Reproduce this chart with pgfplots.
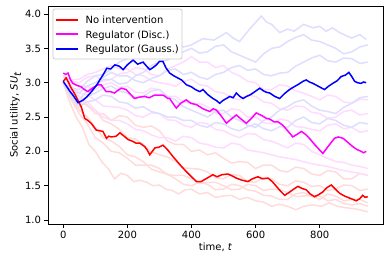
\documentclass[border=0pt]{standalone}
\usepackage{pgfplots}
\pgfplotsset{compat=1.18}
\usepackage{fontspec}
\setmainfont{DejaVu Sans}
\definecolor{mred}{RGB}{255,0,0}
\definecolor{mmag}{RGB}{255,0,255}
\definecolor{mblue}{RGB}{0,0,255}
\definecolor{fred}{RGB}{255,220,220}
\definecolor{fmag}{RGB}{255,220,255}
\definecolor{fblue}{RGB}{222,222,255}
\definecolor{lgedge}{RGB}{204,204,204}
\begin{document}
\fontsize{10pt}{12pt}\selectfont
\begin{tikzpicture}
\useasboundingbox (-48pt,-41pt) rectangle (342pt,224pt);
\begin{axis}[
  at={(0,0)}, anchor=south west,
  scale only axis, width=335pt, height=218pt,
  xmin=-47.5, xmax=997.5, ymin=0.942, ymax=4.117,
  xtick={0,200,400,600,800},
  ytick={1.0,1.5,2.0,2.5,3.0,3.5,4.0},
  yticklabel style={/pgf/number format/.cd, fixed, fixed zerofill, precision=1},
  /pgf/number format/assume math mode=true,
  tick align=outside, major tick length=3.5pt,
  xtick pos=bottom, ytick pos=left,
  tick style={black, line width=0.8pt},
  axis line style={black, line width=0.8pt},
  ticklabel style={font=\fontsize{10pt}{12pt}\selectfont},
  xlabel={time, \textit{t}},
  ylabel={Social utility, \textit{SU}$_{\textit{t}}$},
  label style={font=\fontsize{10pt}{12pt}\selectfont},
  xlabel style={yshift=3pt},
  ylabel style={yshift=-3pt},
]
% faint red
\addplot[fred, line width=1.5pt, forget plot] coordinates {(0,3.0) (25,2.82) (50,2.7) (75,2.68) (100,2.55) (125,2.55) (150,2.45) (175,2.52) (200,2.5) (225,2.38) (250,2.35) (275,2.37) (300,2.3) (325,2.15) (350,2.1) (375,2.1) (400,2.0) (425,2.02) (450,1.95) (475,1.98) (500,1.9) (525,1.83) (550,1.85) (575,1.84) (600,1.75) (625,1.8) (650,1.8) (675,1.72) (700,1.7) (725,1.77) (750,1.75) (775,1.67) (800,1.65) (825,1.72) (850,1.7) (875,1.6) (900,1.6) (925,1.68) (950,1.65)};
\addplot[fred, line width=1.5pt, forget plot] coordinates {(0,3.0) (20,2.72) (40,2.5) (60,2.35) (80,2.1) (100,2.0) (120,1.85) (140,1.75) (160,1.6) (180,1.68) (200,1.65) (220,1.56) (240,1.58) (260,1.55) (280,1.5) (300,1.51) (320,1.45) (340,1.43) (360,1.38) (380,1.44) (400,1.45) (425,1.38) (450,1.4) (475,1.33) (500,1.35) (525,1.36) (550,1.3) (575,1.33) (600,1.28) (625,1.26) (650,1.2) (675,1.23) (700,1.2) (726,1.15) (750,1.2) (780,1.22) (805,1.2) (830,1.25) (855,1.2) (880,1.18) (915,1.16) (950,1.12)};
\addplot[fred, line width=1.5pt, forget plot] coordinates {(0,3.0) (25,2.75) (50,2.55) (75,2.4) (100,2.2) (125,2.12) (150,2.0) (175,1.98) (200,1.9) (225,1.8) (250,1.8) (275,1.8) (300,1.75) (325,1.66) (350,1.65) (375,1.65) (400,1.6) (425,1.53) (450,1.55) (475,1.55) (500,1.5) (525,1.44) (550,1.45) (575,1.52) (600,1.5) (625,1.43) (650,1.45) (675,1.44) (700,1.4) (725,1.34) (750,1.35) (775,1.35) (800,1.3) (825,1.38) (850,1.35) (875,1.28) (900,1.3) (925,1.3) (950,1.25)};
\addplot[fred, line width=1.5pt, forget plot] coordinates {(0,3.0) (25,2.92) (50,2.8) (75,2.66) (100,2.6) (125,2.45) (150,2.4) (175,2.32) (200,2.2) (225,2.18) (250,2.1) (275,1.99) (300,1.95) (325,1.92) (350,1.85) (375,1.76) (400,1.75) (425,1.74) (450,1.7) (475,1.62) (500,1.6) (525,1.66) (550,1.65) (575,1.56) (600,1.55) (625,1.62) (650,1.6) (675,1.52) (700,1.5) (725,1.57) (750,1.55) (775,1.49) (800,1.5) (825,1.43) (850,1.45) (875,1.51) (900,1.5) (925,1.43) (950,1.45)};
\addplot[fred, line width=1.5pt, forget plot] coordinates {(0,3.0) (25,2.78) (50,2.6) (75,2.5) (100,2.35) (125,2.2) (150,2.15) (175,2.07) (200,1.95) (225,1.92) (250,1.85) (275,1.74) (300,1.7) (325,1.67) (350,1.6) (375,1.52) (400,1.5) (425,1.55) (450,1.52) (475,1.44) (500,1.45) (525,1.52) (550,1.5) (575,1.44) (600,1.42) (625,1.36) (650,1.35) (675,1.3) (700,1.3) (725,1.38) (750,1.4) (775,1.34) (800,1.35) (825,1.28) (850,1.3) (875,1.24) (900,1.22) (925,1.24) (950,1.2)};
% faint magenta
\addplot[fmag, line width=1.5pt, forget plot] coordinates {(0,3.1) (25,3.02) (50,3.0) (75,3.08) (100,3.1) (125,3.02) (150,3.05) (175,3.13) (200,3.15) (225,3.22) (250,3.2) (275,3.12) (300,3.1) (325,3.2) (350,3.25) (375,3.3) (400,3.38) (425,3.3) (450,3.3) (475,3.22) (500,3.25) (525,3.15) (550,3.1) (575,3.02) (600,3.0) (625,2.9) (650,2.9) (675,2.97) (700,2.95) (725,2.88) (750,2.85) (775,2.8) (800,2.75) (825,2.82) (850,2.8) (875,2.72) (900,2.7) (925,2.76) (950,2.75)};
\addplot[fmag, line width=1.5pt, forget plot] coordinates {(0,3.1) (25,2.95) (50,2.85) (75,2.82) (100,2.75) (125,2.66) (150,2.65) (175,2.64) (200,2.6) (225,2.52) (250,2.5) (275,2.56) (300,2.55) (325,2.46) (350,2.45) (375,2.38) (400,2.35) (425,2.42) (450,2.4) (475,2.32) (500,2.3) (525,2.24) (550,2.2) (575,2.26) (600,2.25) (625,2.17) (650,2.15) (675,2.1) (700,2.05) (725,2.12) (750,2.1) (775,2.0) (800,1.95) (825,1.9) (850,1.85) (875,1.84) (900,1.8) (925,1.78) (950,1.75)};
\addplot[fmag, line width=1.5pt, forget plot] coordinates {(0,3.1) (25,3.0) (50,2.95) (75,2.95) (100,2.9) (125,2.97) (150,3.0) (175,2.93) (200,2.95) (225,2.86) (250,2.85) (275,2.92) (300,2.9) (325,2.8) (350,2.8) (375,2.72) (400,2.7) (425,2.7) (450,2.65) (475,2.56) (500,2.55) (525,2.62) (550,2.6) (575,2.5) (600,2.5) (625,2.42) (650,2.4) (675,2.47) (700,2.45) (725,2.36) (750,2.35) (775,2.32) (800,2.3) (825,2.38) (850,2.4) (875,2.33) (900,2.35) (925,2.28) (950,2.3)};
\addplot[fmag, line width=1.5pt, forget plot] coordinates {(0,3.1) (25,2.92) (50,2.8) (75,2.72) (100,2.6) (125,2.5) (150,2.45) (175,2.45) (200,2.4) (225,2.32) (250,2.3) (275,2.24) (300,2.2) (325,2.2) (350,2.15) (375,2.22) (400,2.2) (425,2.12) (450,2.1) (475,2.06) (500,2.05) (525,2.12) (550,2.1) (575,2.02) (600,2.0) (625,1.98) (650,1.95) (675,1.92) (700,1.9) (725,1.88) (750,1.85) (775,1.82) (800,1.8) (825,1.78) (850,1.75) (875,1.72) (900,1.7) (925,1.68) (950,1.65)};
\addplot[fmag, line width=1.5pt, forget plot] coordinates {(0,3.1) (25,3.04) (50,3.05) (75,3.12) (100,3.15) (125,3.2) (150,3.25) (175,3.2) (200,3.2) (225,3.12) (250,3.1) (275,3.03) (300,3.0) (325,2.98) (350,2.95) (375,3.02) (400,3.05) (425,2.97) (450,2.95) (475,2.87) (500,2.85) (525,2.78) (550,2.75) (575,2.82) (600,2.8) (625,2.72) (650,2.7) (675,2.62) (700,2.6) (725,2.66) (750,2.65) (775,2.57) (800,2.55) (825,2.48) (850,2.5) (875,2.58) (900,2.6) (925,2.53) (950,2.55)};
% faint blue
\addplot[fblue, line width=1.5pt, forget plot] coordinates {(0,3.0) (25,2.92) (50,2.9) (75,3.02) (100,3.1) (125,3.12) (150,3.2) (175,3.3) (200,3.35) (225,3.45) (250,3.5) (275,3.44) (300,3.45) (325,3.55) (350,3.6) (375,3.52) (400,3.55) (435,3.64) (470,3.62) (509,3.73) (530,3.65) (550,3.6) (585,3.8) (618,3.97) (635,3.88) (650,3.85) (675,3.73) (700,3.78) (720,3.75) (750,3.85) (778,3.8) (800,3.82) (820,3.75) (840,3.8) (862,3.73) (885,3.68) (900,3.65) (925,3.7) (945,3.63)};
\addplot[fblue, line width=1.5pt, forget plot] coordinates {(0,3.0) (25,2.85) (50,2.75) (75,2.88) (100,2.95) (125,3.05) (150,3.05) (175,2.98) (200,3.0) (225,3.1) (250,3.15) (275,3.25) (300,3.3) (325,3.33) (350,3.4) (375,3.45) (400,3.5) (425,3.43) (450,3.45) (475,3.53) (500,3.55) (525,3.45) (550,3.4) (575,3.35) (600,3.3) (625,3.42) (650,3.5) (675,3.52) (700,3.6) (725,3.66) (750,3.7) (775,3.62) (800,3.6) (825,3.55) (850,3.5) (875,3.42) (900,3.45) (925,3.52) (950,3.55)};
\addplot[fblue, line width=1.5pt, forget plot] coordinates {(0,3.0) (25,2.82) (50,2.7) (75,2.8) (100,2.85) (125,2.92) (150,2.95) (175,2.88) (200,2.85) (225,2.78) (250,2.8) (275,2.88) (300,2.9) (325,2.8) (350,2.75) (375,2.65) (400,2.6) (425,2.55) (450,2.5) (475,2.58) (500,2.6) (525,2.5) (550,2.45) (575,2.38) (600,2.35) (625,2.45) (650,2.5) (675,2.6) (700,2.65) (725,2.72) (750,2.75) (775,2.66) (800,2.6) (825,2.58) (850,2.55) (875,2.64) (900,2.7) (925,2.78) (950,2.8)};
\addplot[fblue, line width=1.5pt, forget plot] coordinates {(0,3.0) (25,2.78) (50,2.65) (75,2.72) (100,2.75) (125,2.82) (150,2.8) (175,2.72) (200,2.7) (225,2.63) (250,2.65) (275,2.58) (300,2.55) (325,2.5) (350,2.5) (375,2.45) (400,2.45) (425,2.38) (450,2.35) (475,2.42) (500,2.4) (525,2.33) (550,2.3) (575,2.36) (600,2.4) (625,2.33) (650,2.3) (675,2.36) (700,2.35) (725,2.45) (750,2.5) (775,2.42) (800,2.4) (825,2.48) (850,2.45) (875,2.38) (900,2.35) (925,2.42) (950,2.4)};
\addplot[fblue, line width=1.5pt, forget plot] coordinates {(0,3.0) (25,2.9) (50,2.85) (75,2.95) (100,3.0) (125,3.08) (150,3.15) (175,3.1) (200,3.1) (225,3.03) (250,3.0) (275,3.06) (300,3.1) (325,3.18) (350,3.2) (375,3.12) (400,3.15) (425,3.08) (450,3.05) (475,3.12) (500,3.15) (525,3.22) (550,3.25) (575,3.18) (600,3.2) (625,3.12) (650,3.1) (675,3.14) (700,3.15) (725,3.24) (750,3.3) (775,3.36) (800,3.4) (825,3.32) (850,3.3) (875,3.36) (900,3.35) (925,3.28) (950,3.3)};
% main lines
\addplot[mred, line width=1.5pt] coordinates {(0,3.02) (9,3.07) (17,3.00) (25,2.92) (33,2.86) (40,2.80) (48,2.72) (56,2.65) (62,2.56) (67,2.48) (77,2.45) (87,2.41) (95,2.36) (103,2.31) (114,2.30) (124,2.29) (135,2.19) (142,2.22) (150,2.21) (165,2.22) (177,2.27) (190,2.22) (203,2.17) (215,2.15) (227,2.12) (239,2.12) (254,2.07) (262,2.02) (270,1.95) (278,2.00) (286,2.05) (298,2.06) (311,2.09) (320,2.05) (326,2.02) (343,1.92) (356,1.85) (369,1.78) (385,1.70) (400,1.63) (416,1.56) (430,1.56) (445,1.60) (467,1.66) (480,1.63) (495,1.66) (514,1.67) (528,1.64) (540,1.61) (558,1.58) (576,1.56) (590,1.60) (607,1.63) (622,1.60) (639,1.61) (652,1.56) (665,1.49) (678,1.42) (691,1.36) (704,1.40) (716,1.44) (732,1.49) (745,1.46) (758,1.44) (770,1.38) (784,1.34) (797,1.37) (810,1.41) (822,1.47) (836,1.51) (849,1.45) (862,1.39) (877,1.35) (893,1.32) (904,1.30) (914,1.28) (925,1.31) (934,1.36) (942,1.33) (950,1.34)};
\addplot[mmag, line width=1.5pt] coordinates {(0,3.14) (8,3.12) (15,3.14) (22,3.05) (30,2.99) (43,2.96) (56,2.94) (66,2.90) (77,2.87) (88,2.91) (98,2.94) (108,2.97) (118,2.97) (126,2.92) (134,2.87) (147,2.87) (160,2.85) (171,2.89) (181,2.92) (189,2.91) (196,2.90) (208,2.84) (222,2.77) (238,2.79) (254,2.80) (268,2.78) (285,2.82) (298,2.82) (311,2.82) (318,2.80) (326,2.77) (332,2.77) (342,2.70) (353,2.63) (366,2.70) (384,2.75) (398,2.70) (416,2.68) (436,2.62) (457,2.58) (468,2.62) (478,2.60) (492,2.52) (509,2.41) (524,2.47) (540,2.53) (555,2.47) (571,2.41) (585,2.47) (602,2.56) (620,2.52) (634,2.48) (644,2.47) (658,2.43) (670,2.43) (685,2.38) (700,2.30) (716,2.21) (730,2.25) (743,2.29) (755,2.25) (768,2.19) (784,2.10) (800,2.02) (810,1.97) (826,2.07) (836,2.13) (846,2.19) (858,2.21) (873,2.19) (888,2.13) (903,2.07) (915,2.03) (929,2.00) (937,1.98) (945,2.00)};
\addplot[mblue, line width=1.5pt] coordinates {(0,3.02) (10,2.95) (20,2.88) (30,2.82) (46,2.71) (60,2.74) (73,2.79) (90,2.88) (105,2.97) (114,3.04) (125,3.12) (136,3.21) (148,3.20) (161,3.26) (175,3.24) (187,3.19) (200,3.26) (218,3.33) (232,3.27) (249,3.30) (260,3.24) (270,3.19) (280,3.22) (291,3.26) (300,3.31) (311,3.31) (320,3.22) (332,3.14) (345,3.10) (357,3.07) (369,3.04) (384,2.97) (400,2.94) (412,2.90) (426,2.87) (436,2.90) (450,2.83) (467,2.77) (478,2.74) (488,2.70) (498,2.74) (509,2.77) (520,2.80) (530,2.78) (540,2.85) (551,2.80) (561,2.77) (572,2.80) (582,2.82) (595,2.86) (613,2.92) (625,2.88) (634,2.86) (644,2.85) (660,2.80) (675,2.77) (690,2.84) (706,2.90) (720,2.94) (735,2.98) (748,3.02) (758,3.04) (768,3.01) (779,2.99) (795,2.95) (815,2.90) (828,2.95) (841,2.99) (855,3.03) (867,3.09) (880,3.11) (891,3.15) (900,3.09) (909,3.02) (918,3.00) (929,2.99) (937,3.01) (945,3.00)};
\end{axis}
% legend (axis box: 335pt x 218pt at origin)
\draw[lgedge, line width=0.8pt, fill=white, rounded corners=2pt] (5pt,165pt) rectangle (134pt,215pt);
\draw[mred, line width=1.6pt] (8pt,204pt) -- (30pt,204pt);
\draw[mmag, line width=1.6pt] (8pt,190pt) -- (30pt,190pt);
\draw[mblue, line width=1.6pt] (8pt,175pt) -- (30pt,175pt);
\node[anchor=base west, inner sep=0pt, font=\fontsize{10pt}{12pt}\selectfont] at (37.5pt,200.4pt) {No intervention};
\node[anchor=base west, inner sep=0pt, font=\fontsize{10pt}{12pt}\selectfont] at (37.5pt,185.9pt) {Regulator (Disc.)};
\node[anchor=base west, inner sep=0pt, font=\fontsize{10pt}{12pt}\selectfont] at (37.5pt,171.4pt) {Regulator (Gauss.)};
\end{tikzpicture}
\end{document}
